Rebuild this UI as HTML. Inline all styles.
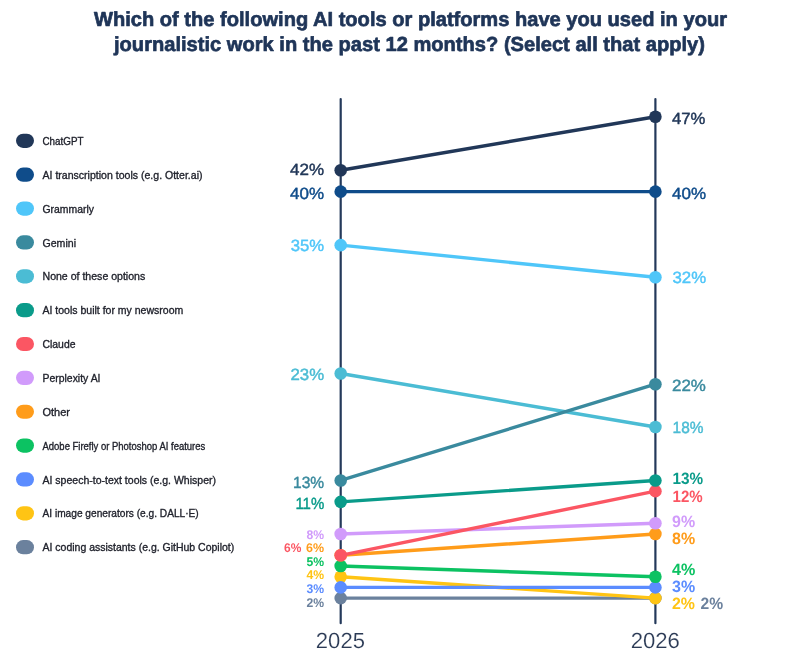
<!DOCTYPE html>
<html lang="en"><head><meta charset="utf-8"><title>AI tools used in journalistic work</title>
<style>
html,body{margin:0;padding:0;background:#fff;}
body{width:801px;height:656px;overflow:hidden;position:relative;font-family:"Liberation Sans",sans-serif;}
svg{position:absolute;left:0;top:0;display:block;}
text{font-family:"Liberation Sans",sans-serif;text-rendering:geometricPrecision;}
.title{font-weight:700;font-size:20.3px;fill:#1f3558;stroke:#1f3558;stroke-width:0.7px;stroke-linejoin:round;text-anchor:middle;}
.leg{font-size:10.5px;fill:#20222c;stroke:#20222c;stroke-width:0.32px;text-rendering:auto;}
.leg.s{font-size:10.1px;}
.big{font-size:16.2px;font-weight:400;stroke-width:0.45px;stroke-linejoin:round;}
.bb{font-size:16.4px;font-weight:700;}
.sm{font-size:12.6px;font-weight:700;}
.yr{font-size:21.8px;fill:#2b3a55;stroke:#fff;stroke-width:0.15px;text-anchor:middle;}
</style></head><body>
<svg width="801" height="656" viewBox="0 0 801 656">
<text class="title" x="410.5" y="26" textLength="633" lengthAdjust="spacingAndGlyphs">Which of the following AI tools or platforms have you used in your</text>
<text class="title" x="409.5" y="51" textLength="591" lengthAdjust="spacingAndGlyphs">journalistic work in the past 12 months? (Select all that apply)</text>
<g id="legend">
<rect x="16" y="133.75" width="18" height="14.2" rx="7.1" fill="#213758"/><text class="leg" x="42.5" y="145" textLength="41.0" lengthAdjust="spacingAndGlyphs">ChatGPT</text>
<rect x="16" y="167.61" width="18" height="14.2" rx="7.1" fill="#0f4c8a"/><text class="leg" x="42.5" y="179" textLength="160.0" lengthAdjust="spacingAndGlyphs">AI transcription tools (e.g. Otter.ai)</text>
<rect x="16" y="201.47" width="18" height="14.2" rx="7.1" fill="#4fc6f9"/><text class="leg" x="42.5" y="213" textLength="51.5" lengthAdjust="spacingAndGlyphs">Grammarly</text>
<rect x="16" y="235.33" width="18" height="14.2" rx="7.1" fill="#3a8a9e"/><text class="leg" x="42.5" y="247" textLength="33.5" lengthAdjust="spacingAndGlyphs">Gemini</text>
<rect x="16" y="269.19" width="18" height="14.2" rx="7.1" fill="#4bbcd4"/><text class="leg" x="42.5" y="280" textLength="102.75" lengthAdjust="spacingAndGlyphs">None of these options</text>
<rect x="16" y="303.05" width="18" height="14.2" rx="7.1" fill="#0a9b8a"/><text class="leg" x="42.5" y="314" textLength="140.75" lengthAdjust="spacingAndGlyphs">AI tools built for my newsroom</text>
<rect x="16" y="336.91" width="18" height="14.2" rx="7.1" fill="#fb5663"/><text class="leg" x="42.5" y="348" textLength="33.0" lengthAdjust="spacingAndGlyphs">Claude</text>
<rect x="16" y="370.77" width="18" height="14.2" rx="7.1" fill="#d19bfb"/><text class="leg" x="42.5" y="382" textLength="58.0" lengthAdjust="spacingAndGlyphs">Perplexity AI</text>
<rect x="16" y="404.63" width="18" height="14.2" rx="7.1" fill="#ff9c1a"/><text class="leg" x="42.5" y="416" textLength="27.5" lengthAdjust="spacingAndGlyphs">Other</text>
<rect x="16" y="438.49" width="18" height="14.2" rx="7.1" fill="#0cc262"/><text class="leg s" x="42.5" y="450" textLength="162.75" lengthAdjust="spacingAndGlyphs">Adobe Firefly or Photoshop AI features</text>
<rect x="16" y="472.35" width="18" height="14.2" rx="7.1" fill="#5b8cff"/><text class="leg" x="42.5" y="484" textLength="173.5" lengthAdjust="spacingAndGlyphs">AI speech-to-text tools (e.g. Whisper)</text>
<rect x="16" y="506.21" width="18" height="14.2" rx="7.1" fill="#ffc414"/><text class="leg" x="42.5" y="517" textLength="156.25" lengthAdjust="spacingAndGlyphs">AI image generators (e.g. DALL·E)</text>
<rect x="16" y="540.07" width="18" height="14.2" rx="7.1" fill="#6b819d"/><text class="leg" x="42.5" y="551" textLength="191.75" lengthAdjust="spacingAndGlyphs">AI coding assistants (e.g. GitHub Copilot)</text>
</g>
<g id="axes">
<line x1="340.7" y1="99.1" x2="340.7" y2="623.2" stroke="#24395b" stroke-width="2.2" stroke-linecap="round"/>
<line x1="655.4" y1="99.1" x2="655.4" y2="623.2" stroke="#24395b" stroke-width="2.2" stroke-linecap="round"/>
</g>
<g id="series">
<line x1="340.7" y1="598.11" x2="655.4" y2="598.11" stroke="#6b819d" stroke-width="3.4" stroke-linecap="round"/><circle cx="340.7" cy="598.11" r="6.3" fill="#6b819d"/><circle cx="655.4" cy="598.11" r="6.3" fill="#6b819d"/>
<line x1="340.7" y1="576.72" x2="655.4" y2="598.11" stroke="#ffc414" stroke-width="3.4" stroke-linecap="round"/><circle cx="340.7" cy="576.72" r="6.3" fill="#ffc414"/><circle cx="655.4" cy="598.11" r="6.3" fill="#ffc414"/>
<line x1="340.7" y1="587.41" x2="655.4" y2="587.41" stroke="#5b8cff" stroke-width="3.4" stroke-linecap="round"/><circle cx="340.7" cy="587.41" r="6.3" fill="#5b8cff"/><circle cx="655.4" cy="587.41" r="6.3" fill="#5b8cff"/>
<line x1="340.7" y1="566.02" x2="655.4" y2="576.72" stroke="#0cc262" stroke-width="3.4" stroke-linecap="round"/><circle cx="340.7" cy="566.02" r="6.3" fill="#0cc262"/><circle cx="655.4" cy="576.72" r="6.3" fill="#0cc262"/>
<line x1="340.7" y1="555.32" x2="655.4" y2="533.93" stroke="#ff9c1a" stroke-width="3.4" stroke-linecap="round"/><circle cx="340.7" cy="555.32" r="6.3" fill="#ff9c1a"/><circle cx="655.4" cy="533.93" r="6.3" fill="#ff9c1a"/>
<line x1="340.7" y1="533.93" x2="655.4" y2="523.24" stroke="#d19bfb" stroke-width="3.4" stroke-linecap="round"/><circle cx="340.7" cy="533.93" r="6.3" fill="#d19bfb"/><circle cx="655.4" cy="523.24" r="6.3" fill="#d19bfb"/>
<line x1="340.7" y1="555.32" x2="655.4" y2="491.15" stroke="#fb5663" stroke-width="3.4" stroke-linecap="round"/><circle cx="340.7" cy="555.32" r="6.3" fill="#fb5663"/><circle cx="655.4" cy="491.15" r="6.3" fill="#fb5663"/>
<line x1="340.7" y1="501.84" x2="655.4" y2="480.45" stroke="#0a9b8a" stroke-width="3.4" stroke-linecap="round"/><circle cx="340.7" cy="501.84" r="6.3" fill="#0a9b8a"/><circle cx="655.4" cy="480.45" r="6.3" fill="#0a9b8a"/>
<line x1="340.7" y1="373.49" x2="655.4" y2="426.97" stroke="#4bbcd4" stroke-width="3.4" stroke-linecap="round"/><circle cx="340.7" cy="373.49" r="6.3" fill="#4bbcd4"/><circle cx="655.4" cy="426.97" r="6.3" fill="#4bbcd4"/>
<line x1="340.7" y1="480.45" x2="655.4" y2="384.19" stroke="#3a8a9e" stroke-width="3.4" stroke-linecap="round"/><circle cx="340.7" cy="480.45" r="6.3" fill="#3a8a9e"/><circle cx="655.4" cy="384.19" r="6.3" fill="#3a8a9e"/>
<line x1="340.7" y1="245.14" x2="655.4" y2="277.23" stroke="#4fc6f9" stroke-width="3.4" stroke-linecap="round"/><circle cx="340.7" cy="245.14" r="6.3" fill="#4fc6f9"/><circle cx="655.4" cy="277.23" r="6.3" fill="#4fc6f9"/>
<line x1="340.7" y1="191.66" x2="655.4" y2="191.66" stroke="#0f4c8a" stroke-width="3.4" stroke-linecap="round"/><circle cx="340.7" cy="191.66" r="6.3" fill="#0f4c8a"/><circle cx="655.4" cy="191.66" r="6.3" fill="#0f4c8a"/>
<line x1="340.7" y1="170.27" x2="655.4" y2="116.79" stroke="#213758" stroke-width="3.4" stroke-linecap="round"/><circle cx="340.7" cy="170.27" r="6.3" fill="#213758"/><circle cx="655.4" cy="116.79" r="6.3" fill="#213758"/>
</g>
<g id="labels">
<text class="big" x="324.1" y="174.55" fill="#213758" stroke="#213758" text-anchor="end" textLength="34.0" lengthAdjust="spacingAndGlyphs">42%</text>
<text class="big" x="324.1" y="198.65" fill="#0f4c8a" stroke="#0f4c8a" text-anchor="end" textLength="34.0" lengthAdjust="spacingAndGlyphs">40%</text>
<text class="big" x="324.1" y="250.75" fill="#4fc6f9" stroke="#4fc6f9" text-anchor="end" textLength="33.4" lengthAdjust="spacingAndGlyphs">35%</text>
<text class="big" x="324.1" y="380.05" fill="#4bbcd4" stroke="#4bbcd4" text-anchor="end" textLength="33.6" lengthAdjust="spacingAndGlyphs">23%</text>
<text class="big" x="324.1" y="488.05" fill="#3a8a9e" stroke="#3a8a9e" text-anchor="end" textLength="31.1" lengthAdjust="spacingAndGlyphs">13%</text>
<text class="big" x="324.3" y="508.95" fill="#0a9b8a" stroke="#0a9b8a" text-anchor="end" textLength="28.9" lengthAdjust="spacingAndGlyphs">11%</text>
<text class="sm" x="324.1" y="539.20" fill="#d19bfb" text-anchor="end" textLength="17.6" lengthAdjust="spacingAndGlyphs">8%</text>
<text class="sm" x="324.1" y="552.20" fill="#ff9c1a" text-anchor="end" textLength="18.0" lengthAdjust="spacingAndGlyphs">6%</text>
<text class="sm" x="301.3" y="552.20" fill="#fb5663" text-anchor="end" textLength="17.3" lengthAdjust="spacingAndGlyphs">6%</text>
<text class="sm" x="324.1" y="566.10" fill="#0cc262" text-anchor="end" textLength="17.6" lengthAdjust="spacingAndGlyphs">5%</text>
<text class="sm" x="324.1" y="579.30" fill="#ffc414" text-anchor="end" textLength="17.6" lengthAdjust="spacingAndGlyphs">4%</text>
<text class="sm" x="324.1" y="593.20" fill="#5b8cff" text-anchor="end" textLength="17.6" lengthAdjust="spacingAndGlyphs">3%</text>
<text class="sm" x="324.1" y="607.20" fill="#6b819d" text-anchor="end" textLength="17.6" lengthAdjust="spacingAndGlyphs">2%</text>
<text class="big" x="672.0" y="123.75" fill="#213758" stroke="#213758" text-anchor="start" textLength="33.4" lengthAdjust="spacingAndGlyphs">47%</text>
<text class="big" x="672.0" y="198.55" fill="#0f4c8a" stroke="#0f4c8a" text-anchor="start" textLength="34.0" lengthAdjust="spacingAndGlyphs">40%</text>
<text class="big" x="672.5" y="283.45" fill="#4fc6f9" stroke="#4fc6f9" text-anchor="start" textLength="33.6" lengthAdjust="spacingAndGlyphs">32%</text>
<text class="big" x="672.0" y="391.05" fill="#3a8a9e" stroke="#3a8a9e" text-anchor="start" textLength="33.9" lengthAdjust="spacingAndGlyphs">22%</text>
<text class="big" x="672.6" y="432.75" fill="#4bbcd4" stroke="#4bbcd4" text-anchor="start" textLength="30.9" lengthAdjust="spacingAndGlyphs">18%</text>
<text class="bb" x="672.5" y="483.85" fill="#0a9b8a" text-anchor="start" textLength="30.6" lengthAdjust="spacingAndGlyphs">13%</text>
<text class="bb" x="672.6" y="501.95" fill="#fb5663" text-anchor="start" textLength="30.2" lengthAdjust="spacingAndGlyphs">12%</text>
<text class="bb" x="672.0" y="527.05" fill="#d19bfb" text-anchor="start" textLength="23.1" lengthAdjust="spacingAndGlyphs">9%</text>
<text class="bb" x="672.0" y="544.45" fill="#ff9c1a" text-anchor="start" textLength="23.1" lengthAdjust="spacingAndGlyphs">8%</text>
<text class="bb" x="672.0" y="575.25" fill="#0cc262" text-anchor="start" textLength="23.3" lengthAdjust="spacingAndGlyphs">4%</text>
<text class="bb" x="672.0" y="592.15" fill="#5b8cff" text-anchor="start" textLength="23.1" lengthAdjust="spacingAndGlyphs">3%</text>
<text class="bb" x="672.0" y="609.05" fill="#ffc414" text-anchor="start" textLength="23.0" lengthAdjust="spacingAndGlyphs">2%</text>
<text class="bb" x="700.5" y="609.05" fill="#6b819d" text-anchor="start" textLength="22.6" lengthAdjust="spacingAndGlyphs">2%</text>
</g>
<text class="yr" x="340.4" y="648" textLength="49.1" lengthAdjust="spacingAndGlyphs">2025</text>
<text class="yr" x="655.3" y="648" textLength="49.2" lengthAdjust="spacingAndGlyphs">2026</text>
</svg></body></html>
